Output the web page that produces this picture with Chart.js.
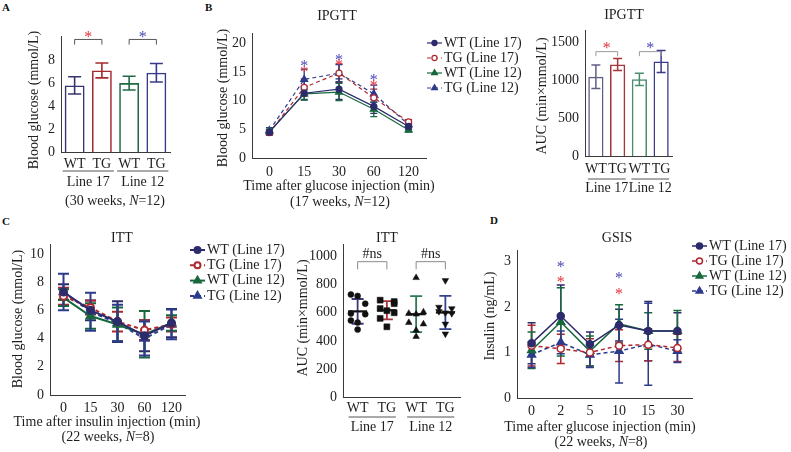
<!DOCTYPE html>
<html>
<head>
<meta charset="utf-8">
<script src="https://cdn.jsdelivr.net/npm/chart.js@4.4.1/dist/chart.umd.min.js"></script>
<style>
  body { margin: 0; background: #fff; }
  #page { position: relative; width: 791px; height: 452px; overflow: hidden; background: #fff; }
  #page canvas { position: absolute; left: 0; top: 0; }
  .tag { position: absolute; font: bold 11px "Liberation Serif", serif; color: #111; }
</style>
</head>
<body>
<div id="page">
  <div class="tag" style="left:2px;top:1px">A</div>
  <div class="tag" style="left:205px;top:1px">B</div>
  <div class="tag" style="left:2px;top:215px">C</div>
  <div class="tag" style="left:490px;top:214px">D</div>
  <canvas id="chartA" width="791" height="452"></canvas>
  <canvas id="chartB" width="791" height="452"></canvas>
  <canvas id="chartBauc" width="791" height="452"></canvas>
  <canvas id="chartC" width="791" height="452"></canvas>
  <canvas id="chartCauc" width="791" height="452"></canvas>
  <canvas id="chartD" width="791" height="452"></canvas>
</div>
<script>
// ---- shared labels ----
const groupLabels = ['WT', 'TG', 'WT', 'TG'];
const lineNames = ['Line 17', 'Line 12'];
const seriesNames = ['WT (Line 17)', 'TG (Line 17)', 'WT (Line 12)', 'TG (Line 12)'];

// ---- A: fasting glucose, 30 weeks ----
const aGlucose = [5.8, 7.1, 6.0, 6.9];
const aGlucoseErr = [0.75, 0.65, 0.6, 0.8];
const aTicks = [0, 2, 4, 6, 8];

// ---- B: IPGTT, 17 weeks ----
const bTimes = ['0', '15', '30', '60', '120'];
const bWT17 = [4.5, 11.3, 12.0, 9.0, 5.5];
const bTG17 = [4.4, 12.3, 14.8, 10.5, 6.3];
const bWT12 = [4.6, 11.2, 11.5, 8.5, 4.9];
const bTG12 = [4.8, 13.7, 14.8, 11.2, 5.8];
const bWT17Err = [0.5, 1.2, 1.8, 1.2, 0.5];
const bTG17Err = [0.4, 1.5, 1.6, 1.5, 0.4];
const bWT12Err = [0.4, 1.0, 1.5, 1.3, 0.4];
const bTG12Err = [0.5, 1.8, 1.5, 1.5, 0.5];
const bStarRed = [null, 15.5, 16.7, 13.2, null];
const bStarBlue = [null, 16.6, 17.7, 14.2, null];
const bTicks = [0, 5, 10, 15, 20];
const bAuc = [1045, 1205, 1010, 1245];
const bAucErr = [155, 80, 80, 145];
const bAucTicks = [0, 500, 1000, 1500];

// ---- C: ITT, 22 weeks ----
const cTimes = ['0', '15', '30', '60', '120'];
const cWT17 = [7.3, 6.0, 5.2, 4.2, 5.1];
const cTG17 = [7.0, 6.2, 5.2, 4.6, 5.0];
const cWT12 = [6.9, 5.6, 5.0, 4.3, 5.1];
const cTG12 = [7.3, 5.9, 5.1, 4.0, 5.0];
const cWT17Err = [0.55, 0.7, 1.45, 1.1, 1.0];
const cTG17Err = [0.6, 0.5, 0.7, 0.7, 0.5];
const cWT12Err = [0.6, 0.9, 1.2, 1.65, 0.55];
const cTG12Err = [1.3, 1.35, 1.3, 1.2, 1.05];
const cTicks = [0, 2, 4, 6, 8, 10];
// ITT AUC, one value per mouse, with horizontal jitter
const cAucWT17 = [730, 720, 665, 595, 590, 545, 530, 480];
const cAucWT17Dx = [-0.23, 0, 0.26, -0.23, 0.26, -0.23, 0, 0];
const cAucTG17 = [690, 680, 665, 630, 615, 600, 560, 500];
const cAucTG17Dx = [-0.23, 0.25, 0.25, -0.23, 0, 0.25, -0.23, 0];
const cAucWT12 = [850, 605, 595, 590, 530, 520, 475, 430];
const cAucWT12Dx = [0, 0.25, -0.25, 0, -0.25, 0.25, 0, 0];
const cAucTG12 = [830, 640, 630, 610, 600, 595, 520, 450];
const cAucTG12Dx = [0, -0.22, 0.22, -0.22, 0, 0.22, 0, 0];
const cAucMean = [610, 618, 590, 602];
const cAucSd = [88, 65, 128, 118];
const cAucTicks = [0, 200, 400, 600, 800, 1000];

// ---- D: GSIS, 22 weeks ----
const dTimes = ['0', '2', '5', '10', '15', '30'];
const dWT17 = [1.2, 1.8, 1.18, 1.6, 1.47, 1.47];
const dTG17 = [1.15, 1.08, 1.0, 1.15, 1.17, 1.1];
const dWT12 = [1.05, 1.67, 1.03, 1.63, 1.47, 1.47];
const dTG12 = [0.95, 1.22, 0.95, 1.03, 1.18, 1.03];
const dWT17Err = [0.45, 0.68, 0.27, 0.35, 0.65, 0.4];
const dTG17Err = [0.45, 0.32, 0.3, 0.35, 0.35, 0.3];
const dWT12Err = [0.4, 0.75, 0.33, 0.42, 0.4, 0.45];
const dTG12Err = [0.28, 0.25, 0.28, 0.7, 0.9, 0.25];
const dStarRed = [null, 2.62, null, 2.35, null, null];
const dStarBlue = [null, 2.95, null, 2.7, null, null];
const dTicks = [0, 1, 2, 3];

// ---- styling ----
const FONT = '"Liberation Serif", serif';
const INK = '#1e1e1e';
const AXIS = '#3a3a3a';
const NAVY = '#2c2b6c', RED = '#b0282e', GREEN = '#17683c', BLUE = '#2d3b8c';
const STAR_RED = '#e5323b', STAR_BLUE = '#4848b6';
const barColors = ['#34346f', '#a52a30', '#1f6c44', '#3a3a88'];
const aucColors = ['#5f5f86', '#a3353b', '#4a8d6c', '#3b3b88'];
const sdColors = ['#3b3a78', '#a8323a', '#2d7a52', '#34418f'];
const W = 791, H = 452;

function font(size, style) { return (style || '') + ' ' + size + 'px ' + FONT; }

function text(ctx, s, x, y, o) {
  o = o || {};
  ctx.save();
  ctx.font = font(o.size || 14, o.style);
  ctx.fillStyle = o.color || INK;
  ctx.textAlign = o.align || 'center';
  ctx.textBaseline = 'middle';
  if (o.rot) { ctx.translate(x, y); ctx.rotate(o.rot); ctx.fillText(s, 0, 0); }
  else ctx.fillText(s, x, y);
  ctx.restore();
}

// text with an italic N, e.g. (17 weeks, N=12)
function rich(ctx, parts, cx, y) {
  ctx.save();
  ctx.fillStyle = INK; ctx.textBaseline = 'middle'; ctx.textAlign = 'left';
  let w = 0;
  parts.forEach(p => { ctx.font = font(14, p[1]); w += ctx.measureText(p[0]).width; });
  let x = cx - w / 2;
  parts.forEach(p => { ctx.font = font(14, p[1]); ctx.fillText(p[0], x, y); x += ctx.measureText(p[0]).width; });
  ctx.restore();
}
function cohort(weeks, n) { return [['(' + weeks + ' weeks, ', ''], ['N', 'italic'], ['=' + n + ')', '']]; }

function bracket(chart, i0, i1, v, leg, color, label, labelColor, labelV, labelSize) {
  const xs = chart.scales.x, ys = chart.scales.y, ctx = chart.ctx;
  const x0 = xs.getPixelForValue(i0), x1 = xs.getPixelForValue(i1);
  const y = ys.getPixelForValue(v), y2 = ys.getPixelForValue(v - leg);
  ctx.save();
  ctx.strokeStyle = color; ctx.lineWidth = 1;
  ctx.beginPath();
  ctx.moveTo(x0, y2); ctx.lineTo(x0, y); ctx.lineTo(x1, y); ctx.lineTo(x1, y2);
  ctx.stroke();
  ctx.restore();
  const off = label === '*' ? 4 : 0;
  text(ctx, label, (x0 + x1) / 2, ys.getPixelForValue(labelV) + off, { color: labelColor, size: labelSize || 14 });
}

function groupAxis(chart, lineY, labelY, half) {
  const xs = chart.scales.x, ctx = chart.ctx;
  lineNames.forEach((name, g) => {
    const xa = xs.getPixelForValue(2 * g), xb = xs.getPixelForValue(2 * g + 1);
    ctx.save();
    ctx.strokeStyle = '#555'; ctx.lineWidth = 1;
    ctx.beginPath(); ctx.moveTo(xa - half, lineY); ctx.lineTo(xb + half, lineY); ctx.stroke();
    ctx.restore();
    text(ctx, name, (xa + xb) / 2, labelY);
  });
}

function stars(chart, values, color) {
  const xs = chart.scales.x, ys = chart.scales.y;
  values.forEach((v, i) => {
    if (v == null) return;
    text(chart.ctx, '*', xs.getPixelForValue(i), ys.getPixelForValue(v) + 4, { color: color, size: 16 });
  });
}

function drawMarker(ctx, ds, x, y, scale) {
  const r = ds.pointRadius * scale;
  ctx.save();
  ctx.setLineDash([]);
  ctx.fillStyle = ds.pointBackgroundColor;
  ctx.strokeStyle = ds.pointBorderColor;
  ctx.lineWidth = ds.pointBorderWidth;
  ctx.beginPath();
  if (ds.pointStyle === 'triangle') {
    ctx.moveTo(x, y - r);
    ctx.lineTo(x + r * 0.866, y + r * 0.5);
    ctx.lineTo(x - r * 0.866, y + r * 0.5);
    ctx.closePath();
  } else {
    ctx.arc(x, y, r, 0, Math.PI * 2);
  }
  ctx.fill(); ctx.stroke();
  ctx.restore();
}

function drawLegend(chart, x, y0, dy) {
  const ctx = chart.ctx;
  chart.data.datasets.forEach((ds, i) => {
    const y = y0 + i * dy;
    ctx.save();
    ctx.strokeStyle = ds.borderColor; ctx.lineWidth = ds.borderWidth;
    ctx.setLineDash(ds.borderDash);
    ctx.beginPath(); ctx.moveTo(x, y); ctx.lineTo(x + 15, y); ctx.stroke();
    ctx.restore();
    drawMarker(ctx, ds, x + 7.5, y, 0.85);
    text(ctx, ds.label, x + 17, y, { align: 'left' });
  });
}

// vertical error bars (mean +/- err) drawn from dataset.errors
const errorBars = {
  id: 'errorBars',
  beforeDatasetsDraw(chart) {
    const ctx = chart.ctx;
    chart.data.datasets.forEach((ds, di) => {
      if (!ds.errors) return;
      const meta = chart.getDatasetMeta(di);
      const ys = chart.scales[meta.yAxisID];
      ctx.save();
      ctx.lineWidth = ds.errWidth || 1.5;
      ctx.setLineDash([]);
      meta.data.forEach((el, i) => {
        const e = ds.errors[i];
        if (e == null) return;
        const d = ds.data[i];
        const v = typeof d === 'object' ? d.y : d;
        const x = el.x;
        const yt = ys.getPixelForValue(v + e), yb = ys.getPixelForValue(v - e);
        const half = (ds.errCap || 8) / 2;
        ctx.strokeStyle = Array.isArray(ds.errColor) ? ds.errColor[i] : (ds.errColor || ds.borderColor);
        ctx.beginPath();
        ctx.moveTo(x, yt); ctx.lineTo(x, yb);
        ctx.moveTo(x - half, yt); ctx.lineTo(x + half, yt);
        ctx.moveTo(x - half, yb); ctx.lineTo(x + half, yb);
        ctx.stroke();
      });
      ctx.restore();
    });
  }
};

function yAxis(max, ticks, yw) {
  return {
    type: 'linear', min: 0, max: max,
    grid: { display: false, drawTicks: false },
    border: { display: true, color: AXIS, width: 1 },
    ticks: { color: INK, font: { family: FONT, size: 14 }, padding: 6, callback: v => String(v) },
    afterBuildTicks: s => { s.ticks = ticks.map(v => ({ value: v })); },
    afterFit: s => { s.width = yw; }
  };
}

function xCat(xh, padding) {
  return {
    type: 'category', offset: true,
    grid: { display: false, drawTicks: false },
    border: { display: true, color: AXIS, width: 1 },
    ticks: { color: INK, font: { family: FONT, size: 14 }, padding: padding, autoSkip: false, maxRotation: 0 },
    afterFit: s => { s.height = xh; }
  };
}

function baseOptions(area, scales) {
  return {
    responsive: false, animation: false, devicePixelRatio: 1, events: [],
    layout: { padding: { left: area.l - 40, top: area.t, right: W - area.r, bottom: H - area.b - 24 } },
    plugins: { legend: { display: false }, tooltip: { enabled: false } },
    scales: scales
  };
}

function series(label, data, errors, color, dashed, marker, filled, st) {
  return {
    label: label, data: data, errors: errors,
    borderColor: color, backgroundColor: color,
    borderWidth: st.line, borderDash: dashed ? [4, 3] : [],
    pointStyle: marker,
    pointRadius: marker === 'triangle' ? st.r + 1 : st.r,
    pointBackgroundColor: filled ? color : '#fff',
    pointBorderColor: color, pointBorderWidth: st.line,
    errWidth: st.err, errCap: st.cap,
    fill: false, tension: 0
  };
}

// ================= A =================
const areaA = { l: 61, t: 36, r: 170, b: 152 };
new Chart(document.getElementById('chartA'), {
  type: 'bar',
  data: {
    labels: groupLabels,
    datasets: [{
      data: aGlucose, errors: aGlucoseErr,
      backgroundColor: 'rgba(0,0,0,0)', borderColor: barColors, errColor: barColors,
      borderWidth: 1.6, categoryPercentage: 1, barPercentage: 0.73, errCap: 13, errWidth: 1.6
    }]
  },
  options: baseOptions(areaA, { x: xCat(24, 4), y: yAxis(10.1, aTicks, 40) }),
  plugins: [errorBars, {
    id: 'decoA',
    afterDraw(chart) {
      const ctx = chart.ctx;
      bracket(chart, 0, 1, 9.8, 0.45, '#555', '*', STAR_RED, 10.3, 16);
      bracket(chart, 2, 3, 9.8, 0.45, '#555', '*', STAR_BLUE, 10.3, 16);
      groupAxis(chart, 171, 182, 12);
      text(ctx, 'Blood glucose (mmol/L)', 34, 100, { rot: -Math.PI / 2 });
      rich(ctx, cohort(30, 12), 115, 201);
    }
  }]
});

// ================= B (IPGTT curve) =================
const areaB = { l: 252, t: 33, r: 426, b: 158 };
const stB = { line: 1.2, err: 1.3, cap: 7, r: 3 };
new Chart(document.getElementById('chartB'), {
  type: 'line',
  data: {
    labels: bTimes,
    datasets: [
      series(seriesNames[0], bWT17, bWT17Err, NAVY, false, 'circle', true, stB),
      series(seriesNames[1], bTG17, bTG17Err, RED, true, 'circle', false, stB),
      series(seriesNames[2], bWT12, bWT12Err, GREEN, false, 'triangle', true, stB),
      series(seriesNames[3], bTG12, bTG12Err, BLUE, true, 'triangle', true, stB)
    ]
  },
  options: baseOptions(areaB, { x: xCat(24, 6), y: yAxis(21.8, bTicks, 40) }),
  plugins: [errorBars, {
    id: 'decoB',
    afterDraw(chart) {
      const ctx = chart.ctx;
      stars(chart, bStarRed, STAR_RED);
      stars(chart, bStarBlue, STAR_BLUE);
      text(ctx, 'IPGTT', 337, 16);
      text(ctx, 'Blood glucose (mmol/L)', 223, 98, { rot: -Math.PI / 2 });
      text(ctx, 'Time after glucose injection (min)', 339, 186);
      rich(ctx, cohort(17, 12), 340, 202);
      drawLegend(chart, 427, 43, 15);
    }
  }]
});

// ================= B (AUC bars) =================
const areaBauc = { l: 585, t: 30, r: 672, b: 156 };
new Chart(document.getElementById('chartBauc'), {
  type: 'bar',
  data: {
    labels: groupLabels,
    datasets: [{
      data: bAuc, errors: bAucErr,
      backgroundColor: 'rgba(0,0,0,0)', borderColor: aucColors, errColor: aucColors,
      borderWidth: 1.5, categoryPercentage: 1, barPercentage: 0.7, errCap: 9, errWidth: 1.5
    }]
  },
  options: baseOptions(areaBauc, { x: xCat(24, 5), y: yAxis(1660, bAucTicks, 40) }),
  plugins: [errorBars, {
    id: 'decoBauc',
    afterDraw(chart) {
      const ctx = chart.ctx;
      bracket(chart, 0, 1, 1375, 60, '#9a9a9a', '*', STAR_RED, 1470, 16);
      bracket(chart, 2, 3, 1375, 60, '#9a9a9a', '*', STAR_BLUE, 1470, 16);
      groupAxis(chart, 179, 188, 8);
      text(ctx, 'IPGTT', 624, 15);
      text(ctx, 'AUC (min×mmol/L)', 542, 96, { rot: -Math.PI / 2 });
    }
  }]
});

// ================= C (ITT curve) =================
const areaC = { l: 50, t: 244, r: 185, b: 395 };
const stC = { line: 2, err: 2, cap: 11, r: 3.5 };
new Chart(document.getElementById('chartC'), {
  type: 'line',
  data: {
    labels: cTimes,
    datasets: [
      series(seriesNames[0], cWT17, cWT17Err, NAVY, false, 'circle', true, stC),
      series(seriesNames[1], cTG17, cTG17Err, RED, true, 'circle', false, stC),
      series(seriesNames[2], cWT12, cWT12Err, GREEN, false, 'triangle', true, stC),
      series(seriesNames[3], cTG12, cTG12Err, BLUE, true, 'triangle', true, stC)
    ]
  },
  options: baseOptions(areaC, { x: xCat(24, 5), y: yAxis(10.7, cTicks, 40) }),
  plugins: [errorBars, {
    id: 'decoC',
    afterDraw(chart) {
      const ctx = chart.ctx;
      text(ctx, 'ITT', 122, 238);
      text(ctx, 'Blood glucose (mmol/L)', 18, 319, { rot: -Math.PI / 2 });
      text(ctx, 'Time after insulin injection (min)', 107, 422);
      rich(ctx, cohort(22, 8), 108, 437);
      drawLegend(chart, 190, 250, 15.3);
    }
  }]
});

// ================= C (ITT AUC scatter) =================
const areaCauc = { l: 343, t: 244, r: 460, b: 397 };
function mice(values, dx, group, style, rot) {
  return {
    data: values.map((v, k) => ({ x: group + dx[k], y: v })),
    pointStyle: style, pointRotation: rot || 0,
    pointRadius: style === 'circle' ? 3 : (style === 'rect' ? 4.2 : 3.8),
    pointBackgroundColor: '#111', pointBorderColor: '#111', pointBorderWidth: 0.5
  };
}
new Chart(document.getElementById('chartCauc'), {
  type: 'scatter',
  data: {
    datasets: [
      {
        data: cAucMean.map((m, g) => ({ x: g, y: m })), errors: cAucSd, errColor: sdColors,
        errCap: 12, errWidth: 1.8,
        pointStyle: 'line', pointRadius: 9.5, pointBorderColor: '#111', pointBorderWidth: 2.2,
        borderColor: '#111'
      },
      mice(cAucWT17, cAucWT17Dx, 0, 'circle'),
      mice(cAucTG17, cAucTG17Dx, 1, 'rect'),
      mice(cAucWT12, cAucWT12Dx, 2, 'triangle'),
      mice(cAucTG12, cAucTG12Dx, 3, 'triangle', 180)
    ]
  },
  options: baseOptions(areaCauc, {
    x: {
      type: 'linear', min: -0.5, max: 3.5,
      grid: { display: false, drawTicks: false },
      border: { display: true, color: AXIS, width: 1 },
      ticks: { color: INK, font: { family: FONT, size: 14 }, padding: 3, callback: v => groupLabels[v] },
      afterBuildTicks: s => { s.ticks = groupLabels.map((_, g) => ({ value: g })); },
      afterFit: s => { s.height = 24; }
    },
    y: yAxis(1090, cAucTicks, 40)
  }),
  plugins: [errorBars, {
    id: 'decoCauc',
    afterDraw(chart) {
      const ctx = chart.ctx;
      bracket(chart, 0, 1, 964, 55, '#8a8a8a', '#ns', INK, 1018);
      bracket(chart, 2, 3, 964, 55, '#8a8a8a', '#ns', INK, 1018);
      groupAxis(chart, 417, 427, 9);
      text(ctx, 'ITT', 387, 238);
      text(ctx, 'AUC (min×mmol/L)', 303, 318, { rot: -Math.PI / 2 });
    }
  }]
});

// ================= D (GSIS curve) =================
const areaD = { l: 517, t: 250, r: 692, b: 398 };
const stD = { line: 1.5, err: 1.5, cap: 8, r: 3.5 };
new Chart(document.getElementById('chartD'), {
  type: 'line',
  data: {
    labels: dTimes,
    datasets: [
      series(seriesNames[0], dWT17, dWT17Err, NAVY, false, 'circle', true, stD),
      series(seriesNames[1], dTG17, dTG17Err, RED, true, 'circle', false, stD),
      series(seriesNames[2], dWT12, dWT12Err, GREEN, false, 'triangle', true, stD),
      series(seriesNames[3], dTG12, dTG12Err, BLUE, true, 'triangle', true, stD)
    ]
  },
  options: baseOptions(areaD, { x: xCat(24, 5), y: yAxis(3.25, dTicks, 40) }),
  plugins: [errorBars, {
    id: 'decoD',
    afterDraw(chart) {
      const ctx = chart.ctx;
      stars(chart, dStarRed, STAR_RED);
      stars(chart, dStarBlue, STAR_BLUE);
      text(ctx, 'GSIS', 617, 238);
      text(ctx, 'Insulin (ng/mL)', 490, 316, { rot: -Math.PI / 2 });
      text(ctx, 'Time after glucose injection (min)', 600, 427);
      rich(ctx, cohort(22, 8), 601, 442);
      drawLegend(chart, 692, 246, 15);
    }
  }]
});
</script>
</body>
</html>
